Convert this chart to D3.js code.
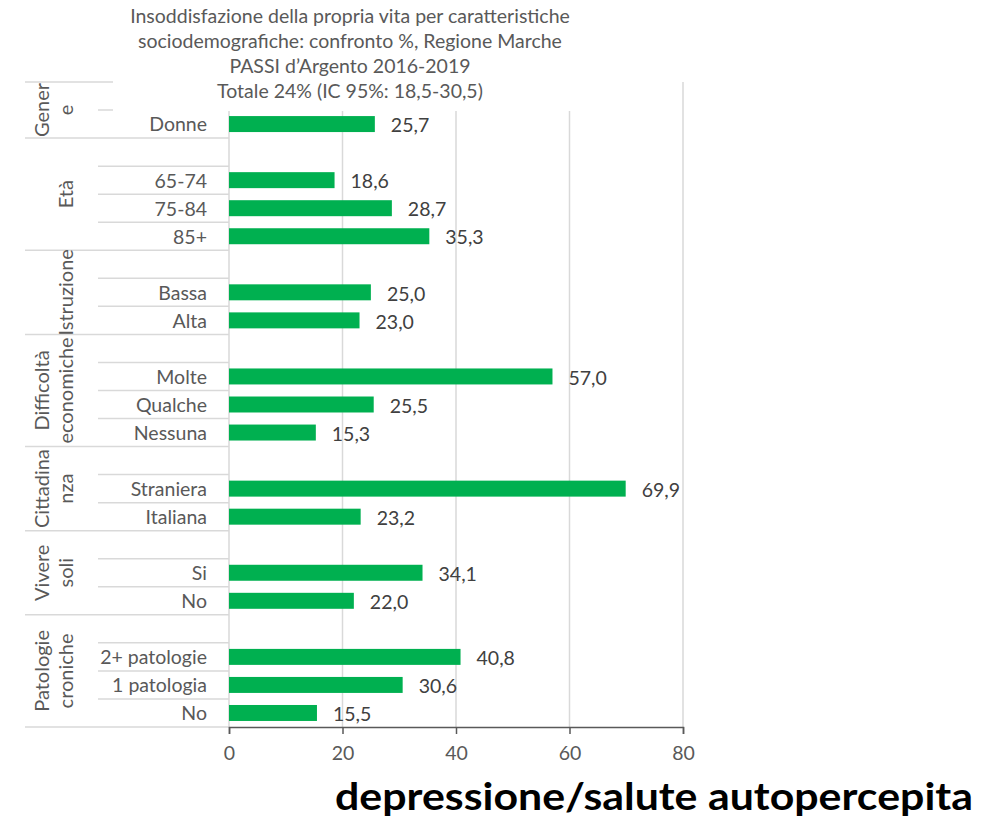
<!DOCTYPE html>
<html>
<head>
<meta charset="utf-8">
<script src="https://cdn.jsdelivr.net/npm/d3@7"></script>
<style>
  body { margin: 0; background: #fff; }
  svg { font-family: Lato, "Open Sans", sans-serif; }
</style>
</head>
<body>
<svg width="1006" height="822"></svg>
<script>
// data
var titleLines = [
    "Insoddisfazione della propria vita per caratteristiche",
    "sociodemografiche: confronto %,  Regione Marche",
    "PASSI d\u2019Argento 2016-2019",
    "Totale 24% (IC 95%: 18,5-30,5)"
];
var groupLabels = [["Gener", "e"], ["Età"], ["Istruzione"], ["Difficoltà", "economiche"], ["Cittadina", "nza"], ["Vivere", "soli"], ["Patologie", "croniche"]];
var categories = ["", "Donne", "", "65-74", "75-84", "85+", "", "Bassa", "Alta", "", "Molte ", "Qualche", "Nessuna",
    "", "Straniera", "Italiana", "", "Si", "No", "", "2+ patologie", "1 patologia", "No"];
var groupOf = [0, 0, 1, 1, 1, 1, 2, 2, 2, 3, 3, 3, 3, 4, 4, 4, 5, 5, 5, 6, 6, 6, 6];
var values = [null, 25.7, null, 18.6, 28.7, 35.3, null, 25.0, 23.0, null, 57.0, 25.5, 15.3,
    null, 69.9, 23.2, null, 34.1, 22.0, null, 40.8, 30.6, 15.5];
var xTicks = [0, 20, 40, 60, 80];
var footer = "depressione/salute autopercepita";

var svg = d3.select("svg");
var plotLeft = 229, plotRight = 683, plotTop = 82, plotBottom = 727;
var labelCol = 98, groupCol = 25;
var grey = "#595959", lineGrey = "#d9d9d9";

var rows = d3.range(categories.length);
var xScale = d3.scaleLinear().domain([0, 80]).range([plotLeft, plotRight]);
var yScale = d3.scaleBand().domain(rows).range([plotTop, plotBottom]).paddingInner(0.43).paddingOuter(0.215);
var step = yScale.step();

// gridlines
svg.append("g").selectAll("line")
    .data(xTicks.slice(1))
    .enter().append("line")
    .attr("x1", function (d) { return xScale(d); })
    .attr("x2", function (d) { return xScale(d); })
    .attr("y1", plotTop).attr("y2", plotBottom)
    .attr("stroke", lineGrey).attr("stroke-width", 1.5);

// category axis lines (row separators)
var sep = svg.append("g").attr("stroke", lineGrey).attr("stroke-width", 1.5);
for (var i = 0; i <= categories.length; i++) {
    var y = plotTop + i * step;
    var isGroupEdge = i == 0 || i == categories.length || groupOf[i] != groupOf[i - 1];
    sep.append("line")
        .attr("x1", isGroupEdge ? groupCol : labelCol).attr("x2", plotLeft)
        .attr("y1", y).attr("y2", y);
}
sep.append("line").attr("x1", plotLeft).attr("x2", plotLeft).attr("y1", plotTop).attr("y2", plotBottom);

// white title box hides the top of the axis area
svg.append("rect").attr("x", 113).attr("y", 0).attr("width", 490).attr("height", 111).attr("fill", "#fff");

var title = svg.append("text")
    .attr("text-anchor", "middle")
    .attr("fill", grey)
    .style("font-size", "19.5px");
titleLines.forEach(function (t, i) {
    title.append("tspan").attr("x", 350).attr("y", 23 + i * 25).text(t);
});

// bars
var barData = rows.filter(function (i) { return values[i] != null; });
svg.append("g").selectAll("rect")
    .data(barData)
    .enter().append("rect")
    .attr("x", xScale(0))
    .attr("y", function (i) { return yScale(i); })
    .attr("width", function (i) { return xScale(values[i]) - xScale(0); })
    .attr("height", yScale.bandwidth())
    .attr("fill", "#00b050");

var fmt = d3.format(".1f");
svg.append("g").selectAll("text")
    .data(barData)
    .enter().append("text")
    .attr("x", function (i) { return xScale(values[i]) + 16; })
    .attr("y", function (i) { return yScale(i) + yScale.bandwidth() / 2; })
    .attr("dy", "0.42em")
    .attr("fill", "#404040")
    .style("font-size", "19.5px")
    .text(function (i) { return fmt(values[i]).replace(".", ","); });

// row labels
svg.append("g").selectAll("text")
    .data(rows)
    .enter().append("text")
    .attr("x", 207)
    .attr("y", function (i) { return yScale(i) + yScale.bandwidth() / 2; })
    .attr("dy", "0.38em")
    .attr("text-anchor", "end")
    .attr("fill", grey)
    .style("font-size", "19.5px")
    .text(function (i) { return categories[i]; });

// group labels
groupLabels.forEach(function (lines, g) {
    var idx = rows.filter(function (i) { return groupOf[i] == g; });
    var cy = plotTop + (idx[0] + idx.length / 2) * step;
    var t = svg.append("text")
        .attr("transform", "translate(73," + cy + ") rotate(-90)")
        .attr("text-anchor", "middle")
        .attr("fill", grey)
        .style("font-size", "20px");
    lines.forEach(function (l, k) {
        t.append("tspan").attr("x", 0).attr("y", -(lines.length - 1 - k) * 24).text(l);
    });
});

// x axis
var xaxis = svg.append("g")
    .attr("transform", "translate(0," + plotBottom + ")")
    .call(d3.axisBottom(xScale).tickValues(xTicks).tickSize(7).tickPadding(12));
xaxis.select(".domain").attr("stroke", grey).attr("stroke-width", 1.5);
xaxis.selectAll("line").attr("stroke", grey).attr("stroke-width", 1.5);
xaxis.selectAll("text").attr("fill", grey).style("font-size", "19.5px").style("font-family", "Lato, sans-serif");

svg.append("text")
    .attr("x", 335).attr("y", 810)
    .attr("fill", "#000")
    .style("font-size", "38px")
    .style("font-weight", "bold")
    .attr("textLength", 638)
    .attr("lengthAdjust", "spacingAndGlyphs")
    .text(footer);
</script>
</body>
</html>
